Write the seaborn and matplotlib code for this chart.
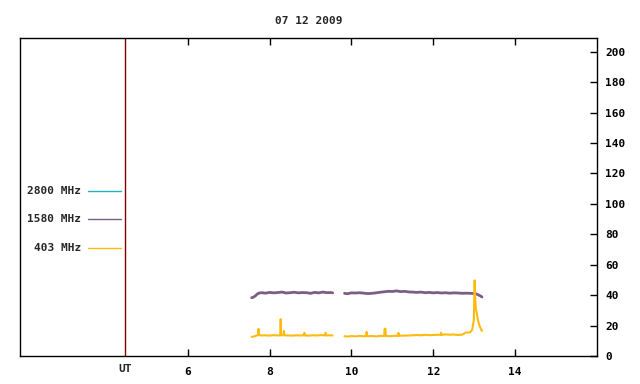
import matplotlib
matplotlib.use("Agg")
import matplotlib.pyplot as plt
import seaborn as sns
import numpy as np
import pandas as pd

title = "07 12 2009"
series_names = ["2800 MHz", "1580 MHz", "403 MHz"]
series_colors = ["#20b0c0", "#7b5e84", "#ffba10"]
ut_hour = 4.46
xtick_vals = [6, 8, 10, 12, 14]
ytick_vals = [0, 20, 40, 60, 80, 100, 120, 140, 160, 180, 200]

# 1580 MHz
t1580_a = [7.56, 7.60, 7.65, 7.70, 7.75, 7.80, 7.90, 8.00, 8.10, 8.20, 8.30, 8.40, 8.50, 8.60,
           8.70, 8.80, 8.90, 9.00, 9.10, 9.20, 9.30, 9.40, 9.50, 9.54]
v1580_a = [38.3, 38.6, 39.5, 40.8, 41.4, 41.6, 41.3, 41.8, 41.5, 41.7, 42.0, 41.4, 41.6, 41.9,
           41.5, 41.7, 41.6, 41.2, 41.8, 41.5, 42.0, 41.6, 41.7, 41.5]
t1580_b = [9.83, 9.90, 10.0, 10.1, 10.2, 10.3, 10.4, 10.5, 10.6, 10.7, 10.8, 10.9, 11.0, 11.1,
           11.2, 11.3, 11.4, 11.5, 11.6, 11.7, 11.8, 11.9, 12.0, 12.1, 12.2, 12.3, 12.4, 12.5,
           12.6, 12.7, 12.8, 12.9, 13.0, 13.05, 13.10, 13.15, 13.19]
v1580_b = [41.2, 40.9, 41.5, 41.4, 41.6, 41.3, 41.0, 41.2, 41.5, 41.9, 42.2, 42.5, 42.4, 42.8,
           42.3, 42.5, 42.1, 42.0, 41.8, 42.0, 41.6, 41.8, 41.5, 41.7, 41.4, 41.6, 41.3, 41.5,
           41.4, 41.2, 41.3, 41.2, 41.0, 40.8, 40.2, 39.5, 38.8]

# 403 MHz
t403_a = [7.56, 7.62, 7.68, 7.72, 7.73, 7.74, 7.80, 7.90, 8.00, 8.10, 8.20, 8.26, 8.27, 8.28,
          8.34, 8.35, 8.36, 8.45, 8.55, 8.65, 8.75, 8.84, 8.85, 8.86, 8.95, 9.05, 9.15, 9.25,
          9.36, 9.37, 9.38, 9.45, 9.54]
v403_a = [12.6, 12.8, 13.5, 13.6, 17.8, 13.8, 13.5, 13.6, 13.4, 13.7, 13.5, 13.6, 24.3, 13.6,
          13.7, 16.5, 13.6, 13.5, 13.4, 13.6, 13.5, 13.6, 15.2, 13.5, 13.4, 13.6, 13.5, 13.7,
          13.6, 15.3, 13.5, 13.6, 13.5]
t403_b = [9.83, 9.90, 10.0, 10.1, 10.2, 10.3, 10.36, 10.37, 10.38, 10.5, 10.6, 10.7, 10.80,
          10.81, 10.83, 10.84, 10.95, 11.05, 11.14, 11.15, 11.16, 11.3, 11.4, 11.5, 11.6, 11.7,
          11.8, 11.9, 12.0, 12.1, 12.18, 12.19, 12.20, 12.3, 12.4, 12.5, 12.6, 12.7, 12.8, 12.9,
          12.95, 12.99, 13.01, 13.02, 13.04, 13.06, 13.09, 13.12, 13.15, 13.19]
v403_b = [13.0, 12.8, 13.1, 12.9, 13.2, 13.0, 13.1, 15.9, 13.0, 13.1, 12.9, 13.2, 13.1, 17.9,
          17.9, 13.2, 13.0, 13.3, 13.2, 15.2, 13.3, 13.4, 13.5, 13.6, 13.8, 13.6, 13.9, 13.7,
          13.8, 13.9, 14.0, 15.3, 13.9, 14.2, 14.0, 14.1, 13.8, 14.0, 15.4, 15.6, 17.2, 23.8,
          49.7, 39.0, 31.0, 28.4, 23.8, 20.5, 18.5, 16.5]

def make_df(ta, va, tb, vb):
    return pd.DataFrame({
        "t": ta + tb,
        "v": va + vb,
        "seg": [0] * len(ta) + [1] * len(tb),
    })

df1580 = make_df(t1580_a, v1580_a, t1580_b, v1580_b)
df403 = make_df(t403_a, v403_a, t403_b, v403_b)

sns.set_style("white")
plt.rcParams["font.family"] = ["DejaVu Sans Mono", "DejaVu Sans"]
plt.rcParams["font.weight"] = "bold"

fig = plt.figure(figsize=(6.4, 3.84), dpi=100)
ax = fig.add_axes([20 / 640, 28 / 384, 577 / 640, 318 / 384])

sns.lineplot(data=df1580, x="t", y="v", units="seg", estimator=None,
             color=series_colors[1], linewidth=2.0, ax=ax)
sns.lineplot(data=df403, x="t", y="v", units="seg", estimator=None,
             color=series_colors[2], linewidth=1.5, ax=ax)

ax.axvline(ut_hour, color="#800000", linewidth=1.0)

ax.set_xlim(1.9, 16.0)
ax.set_ylim(0, 209)
ax.set_xlabel("")
ax.set_ylabel("")

for s in ax.spines.values():
    s.set_color("black")
    s.set_linewidth(1.0)

ax.set_xticks(xtick_vals)
ax.set_xticklabels([str(v) for v in xtick_vals])
ax.tick_params(axis="x", direction="in", top=True, bottom=True, length=5,
               width=1, labelsize=8, pad=8, colors="black")
ax.yaxis.tick_right()
ax.set_yticks(ytick_vals)
ax.set_yticklabels([str(v) for v in ytick_vals])
ax.tick_params(axis="y", direction="in", right=True, left=False, length=5,
               width=1, labelsize=8, pad=6, colors="black")

ax.text(ut_hour, -0.025, "UT", transform=ax.get_xaxis_transform(), ha="center",
        va="top", fontsize=8, fontweight="bold")

ax.set_title(title, fontsize=8, fontweight="bold", pad=10)

# legend
rows = [0.519, 0.431, 0.340]
for name, col, yy in zip(series_names, series_colors, rows):
    ax.text(0.106, yy, name, transform=ax.transAxes, ha="right", va="center",
            fontsize=8, fontweight="bold")
    ax.plot([0.118, 0.175], [yy, yy], transform=ax.transAxes, color=col, linewidth=1.0)

fig.savefig("out.png", dpi=100)
